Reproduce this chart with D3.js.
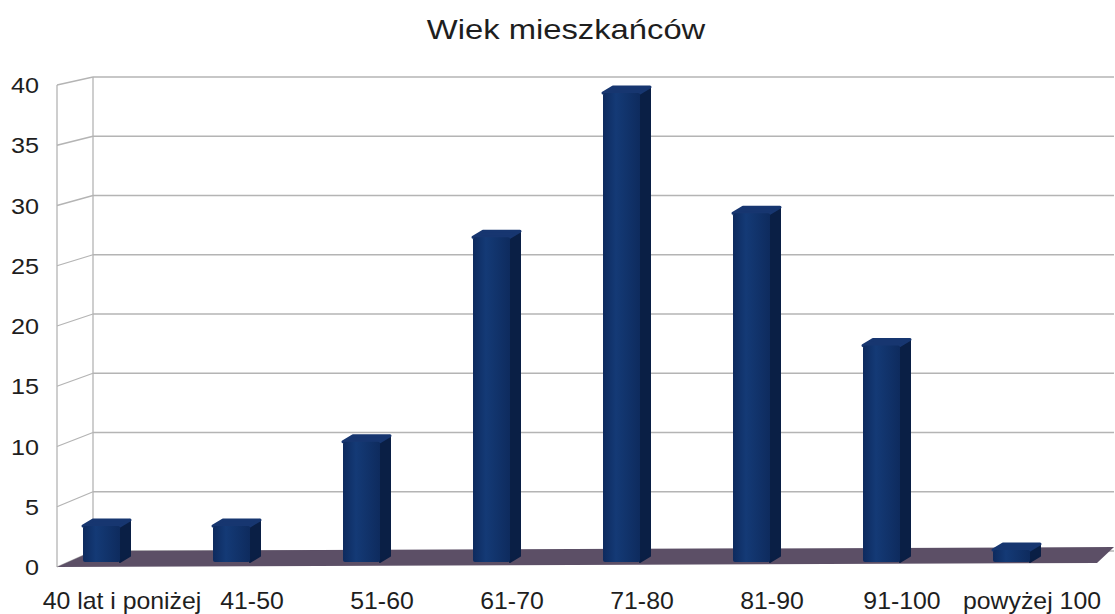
<!doctype html>
<html>
<head>
    <meta charset="utf-8">
    <script src="https://d3js.org/d3.v7.min.js"></script>
    <style>
        body { margin: 0; background: #fff; }
        svg text { font-family: "Liberation Sans", Arial, sans-serif; fill: #1e1e1e; }
    </style>
</head>
<body>
<script>
    // data
    let categories = ["40 lat i poniżej", "41-50", "51-60", "61-70", "71-80", "81-90", "91-100", "powyżej 100"];
    let values = [3, 3, 10, 27, 39, 29, 18, 1];
    let yTicks = [0, 5, 10, 15, 20, 25, 30, 35, 40];

    let width = 1115, height = 614;

    let svg = d3.select("body").append("svg")
        .attr("width", width)
        .attr("height", height);

    // front plane and back wall of the pseudo 3D box
    let yFront = d3.scaleLinear().domain([0, 40]).range([567, 85]);
    let yBack = d3.scaleLinear().domain([0, 40]).range([551, 77]);
    let yBar = d3.scaleLinear().domain([0, 40]).range([562, 81]);
    let frontLeft = 57, backLeft = 93, backRight = 1114, frontRight = 1097;

    let x = d3.scaleBand().domain(categories).range([frontLeft, frontRight]);

    let grid = svg.append("g").attr("stroke", "#b4b4b4").attr("stroke-width", 1.3).attr("fill", "none");

    // back wall lines
    grid.selectAll(".back").data(yTicks).enter().append("line")
        .attr("x1", backLeft).attr("x2", backRight)
        .attr("y1", d => yBack(d)).attr("y2", d => yBack(d));
    // left wall lines
    grid.selectAll(".side").data(yTicks).enter().append("line")
        .attr("x1", frontLeft).attr("x2", backLeft)
        .attr("y1", d => yFront(d)).attr("y2", d => yBack(d));
    grid.append("line").attr("x1", frontLeft).attr("x2", frontLeft)
        .attr("y1", yFront(0)).attr("y2", yFront(40));
    grid.append("line").attr("x1", backLeft).attr("x2", backLeft)
        .attr("y1", yBack(0)).attr("y2", yBack(40));

    // floor
    svg.append("polygon")
        .attr("points", [[frontLeft, yFront(0)], [backLeft, yBack(0)], [backRight, yBack(0) - 4], [frontRight, yFront(0) - 4]].join(" "))
        .attr("fill", "#5c4f66");

    // bar gradient
    let defs = svg.append("defs");
    let g1 = defs.append("linearGradient").attr("id", "front").attr("x1", 0).attr("x2", 1);
    g1.append("stop").attr("offset", "0%").attr("stop-color", "#0d2a5e");
    g1.append("stop").attr("offset", "35%").attr("stop-color", "#143a76");
    g1.append("stop").attr("offset", "100%").attr("stop-color", "#0e2b5e");

    let barW = 37, depthX = 10, depthY = 6, shift = 26;

    let bars = svg.selectAll(".bar").data(values).enter().append("g")
        .attr("transform", (d, i) => "translate(" + (x(categories[i]) + shift) + ",0)");

    bars.append("polygon")
        .attr("points", d => [[barW, yBar(d)], [barW + depthX, yBar(d) - depthY], [barW + depthX, yBar(0) - depthY], [barW, yBar(0)]].join(" "))
        .attr("fill", "#0a1f45")
        .attr("stroke", "#0a1f45").attr("stroke-linejoin", "round").attr("stroke-width", 2);
    bars.append("polygon")
        .attr("points", d => [[0, yBar(d)], [depthX, yBar(d) - depthY], [barW + depthX, yBar(d) - depthY], [barW, yBar(d)]].join(" "))
        .attr("fill", "#173670")
        .attr("stroke", "#173670").attr("stroke-linejoin", "round").attr("stroke-width", 3);
    bars.append("rect")
        .attr("x", 0).attr("width", barW)
        .attr("y", d => yBar(d)).attr("height", d => yBar(0) - yBar(d))
        .attr("rx", 2)
        .attr("fill", "url(#front)");

    // y tick labels (the picture is a bit stretched horizontally)
    svg.selectAll(".ytick").data(yTicks).enter().append("text")
        .attr("transform", d => "translate(39," + yFront(d) + ") scale(1.12,1)")
        .attr("dy", "0.36em")
        .attr("text-anchor", "end")
        .style("font-size", "22.5px")
        .text(d => d);

    // category labels
    svg.selectAll(".xlab").data(categories).enter().append("text")
        .attr("transform", d => "translate(" + (x(d) + x.bandwidth() / 2) + ",609) scale(1.08,1)")
        .attr("text-anchor", "middle")
        .style("font-size", "23px")
        .text(d => d);

    svg.append("text")
        .attr("transform", "translate(566,39) scale(1.17,1)")
        .attr("text-anchor", "middle")
        .style("font-size", "28px")
        .text("Wiek mieszkańców");
</script>
</body>
</html>
